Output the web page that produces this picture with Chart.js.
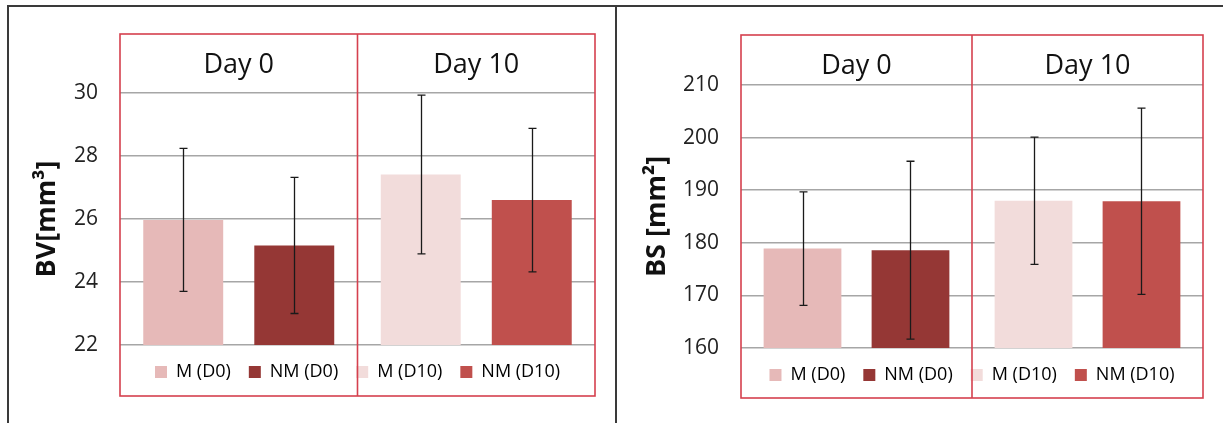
<!DOCTYPE html>
<html>
<head>
<meta charset="utf-8">
<script src="https://cdn.jsdelivr.net/npm/chart.js@4.4.0/dist/chart.umd.min.js"></script>
<style>
  html, body { margin: 0; padding: 0; background: #fff; }
  body { width: 1223px; height: 423px; position: relative; overflow: hidden; }
  #frame { position: absolute; left: 7px; top: 5px; width: 1216px; height: 418px;
           border-top: 2px solid #3a3a3a; border-left: 2px solid #3a3a3a; }
  #sep { position: absolute; left: 615px; top: 5px; width: 2px; height: 418px; background: #3a3a3a; }
  #left { position: absolute; left: 9px; top: 7px; }
  #right { position: absolute; left: 618px; top: 7px; }
</style>
</head>
<body>
<div id="frame"></div>
<div id="sep"></div>
<canvas id="left" width="606" height="416"></canvas>
<canvas id="right" width="605" height="416"></canvas>
<script>
// categories and legend names
var days = ["Day 0", "Day 10"];
var legendNames = ["M (D0)", "NM (D0)", "M (D10)", "NM (D10)"];

// BV [mm3] means and error bars (Day 0, Day 10)
var bvM = [25.97, 27.41];
var bvNM = [25.16, 26.60];
var bvErrM = [2.27, 2.52];
var bvErrNM = [2.16, 2.28];
var bvTicks = { min: 22, max: 30, step: 2 };

// BS [mm2] means and error bars
var bsM = [178.9, 188.0];
var bsNM = [178.6, 187.9];
var bsErrM = [10.8, 12.1];
var bsErrNM = [16.9, 17.7];
var bsTicks = { min: 160, max: 210, step: 10 };

var mColors = ["#E6B9B8", "#F2DCDB"];
var nmColors = ["#953735", "#C0504D"];

var FONT = "'Open Sans', 'Noto Sans', sans-serif";

// error bars drawn from the y scale
var errorBars = {
  id: "errorBars",
  afterDatasetsDraw: function (chart) {
    var ctx = chart.ctx, y = chart.scales.y;
    ctx.save();
    ctx.strokeStyle = "#1a1a1a";
    ctx.lineWidth = 1.3;
    chart.data.datasets.forEach(function (ds, i) {
      var meta = chart.getDatasetMeta(i);
      meta.data.forEach(function (bar, j) {
        var v = ds.data[j], e = ds.errors[j];
        var top = y.getPixelForValue(v + e), bot = y.getPixelForValue(v - e);
        var x = Math.round(bar.x) + 0.5;
        ctx.beginPath();
        ctx.moveTo(x, top); ctx.lineTo(x, bot);
        ctx.moveTo(x - 4, top); ctx.lineTo(x + 4, top);
        ctx.moveTo(x - 4, bot); ctx.lineTo(x + 4, bot);
        ctx.stroke();
      });
    });
    ctx.restore();
  }
};

// red panel boxes around each day
var panelBox = {
  id: "panelBox",
  afterDraw: function (chart, args, opts) {
    var ctx = chart.ctx, a = chart.chartArea, x = chart.scales.x;
    var top = x.top, bottom = a.bottom + opts.below;
    var mid = (x.getPixelForValue(0) + x.getPixelForValue(1)) / 2;
    ctx.save();
    ctx.strokeStyle = "#D5404E";
    ctx.lineWidth = 1.6;
    ctx.strokeRect(a.left, top, a.right - a.left, bottom - top);
    ctx.beginPath();
    ctx.moveTo(mid, top); ctx.lineTo(mid, bottom);
    ctx.stroke();
    ctx.restore();
  }
};

function makeChart(id, title, m, nm, errM, errNM, ticks, lay) {
  var ctx = document.getElementById(id).getContext("2d");
  return new Chart(ctx, {
    type: "bar",
    data: {
      labels: days,
      datasets: [
        { label: "M", data: m, errors: errM, backgroundColor: mColors },
        { label: "NM", data: nm, errors: errNM, backgroundColor: nmColors }
      ]
    },
    options: {
      responsive: false,
      animation: false,
      devicePixelRatio: 1,
      categoryPercentage: 0.935,
      barPercentage: 0.72,
      layout: { padding: { left: lay.padLeft, right: 20, top: lay.padTop, bottom: lay.padBottom } },
      scales: {
        x: {
          position: "top",
          grid: { display: false },
          border: { display: false },
          ticks: { color: "#111", font: { family: FONT, size: 27 }, padding: lay.dayPad },
          afterFit: function (s) { s.height = lay.headH; }
        },
        y: {
          min: ticks.min,
          max: ticks.max,
          grid: { color: "#A6A6A6", lineWidth: 1.5, drawTicks: false },
          border: { display: false },
          ticks: { stepSize: ticks.step, color: "#222", padding: 22, font: { family: FONT, size: 21 } },
          title: { display: true, text: title, color: "#111", font: { family: FONT, size: 27, weight: "bold" } },
          afterFit: function (s) { s.width = lay.axisW; }
        }
      },
      plugins: {
        tooltip: { enabled: false },
        panelBox: { below: lay.boxBelow },
        legend: {
          position: "bottom",
          fullSize: false,
          labels: {
            boxWidth: 12,
            boxHeight: 12,
            padding: 18,
            color: "#222",
            font: { family: FONT, size: 18 },
            generateLabels: function (chart) {
              var items = [];
              for (var d = 0; d < days.length; d++) {
                items.push({ text: legendNames[d * 2], fillStyle: mColors[d], strokeStyle: "rgba(0,0,0,0)", lineWidth: 0 });
                items.push({ text: legendNames[d * 2 + 1], fillStyle: nmColors[d], strokeStyle: "rgba(0,0,0,0)", lineWidth: 0 });
              }
              return items;
            }
          }
        }
      }
    },
    plugins: [errorBars, panelBox]
  });
}

makeChart("left", "BV[mm\u00B3]", bvM, bvNM, bvErrM, bvErrNM, bvTicks,
  { padLeft: 18, axisW: 93, padTop: 27, headH: 59, padBottom: 32, dayPad: 3, boxBelow: 51 });
makeChart("right", "BS [mm\u00B2]", bsM, bsNM, bsErrM, bsErrNM, bsTicks,
  { padLeft: 19, axisW: 104, padTop: 28, headH: 50, padBottom: 29, dayPad: -6, boxBelow: 50 });
</script>
</body>
</html>
